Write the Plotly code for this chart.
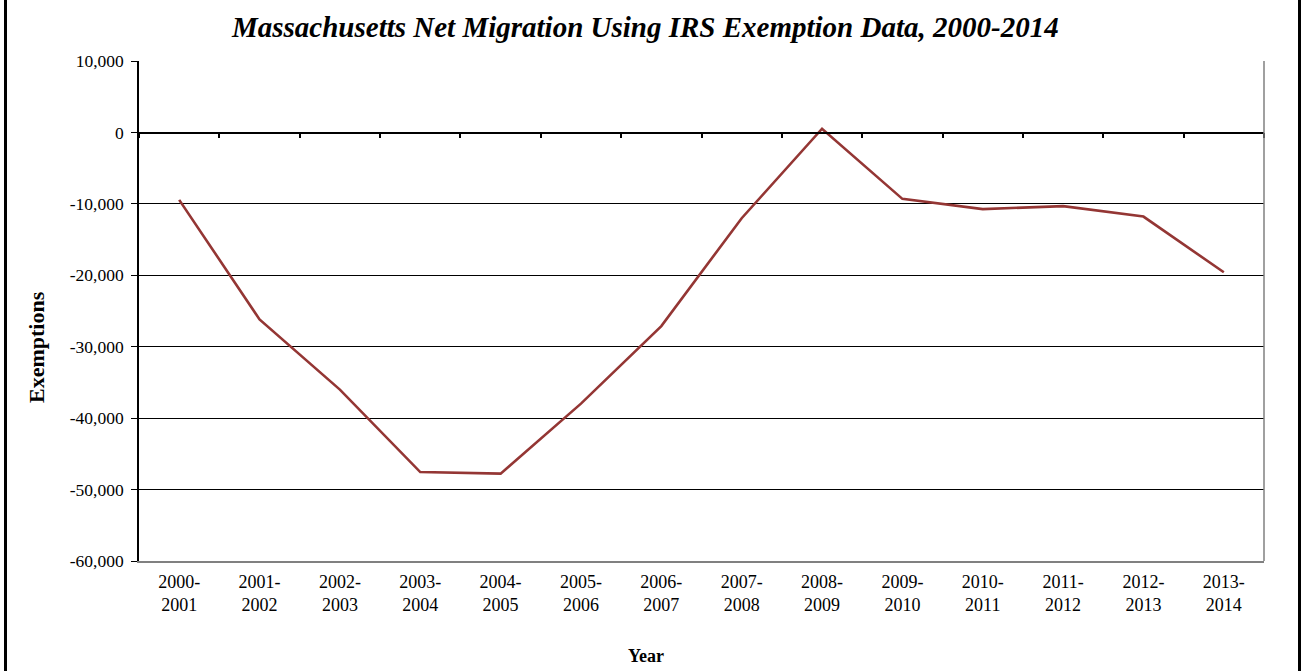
import plotly.graph_objects as go

years = ["2000-<br>2001", "2001-<br>2002", "2002-<br>2003", "2003-<br>2004", "2004-<br>2005",
         "2005-<br>2006", "2006-<br>2007", "2007-<br>2008", "2008-<br>2009", "2009-<br>2010",
         "2010-<br>2011", "2011-<br>2012", "2012-<br>2013", "2013-<br>2014"]
net_migration = [-9440, -26170, -36000, -47550, -47770, -37970, -27110, -12010, 520,
                 -9300, -10740, -10320, -11780, -19580]
y_tickvals = [10000, 0, -10000, -20000, -30000, -40000, -50000, -60000]
y_ticktext = ["10,000", "0", "-10,000", "-20,000", "-30,000", "-40,000", "-50,000", "-60,000"]

W, H = 1301, 671
L, R, T, B = 139, 1264, 61, 561
PW, PH = R - L, B - T

def px(x):
    return (x - L) / PW

def py(y):
    return (B - y) / PH

FONT = "Liberation Serif, Times New Roman, serif"
RED = "#943634"

fig = go.Figure()
fig.add_trace(go.Scatter(x=years, y=net_migration, mode="lines",
                         line=dict(color=RED, width=2.6), hoverinfo="x+y"))
# invisible twin on axis crossing at zero (for boundary ticks)
fig.add_trace(go.Scatter(x=years, y=net_migration, mode="lines", xaxis="x2",
                         line=dict(color="rgba(0,0,0,0)", width=0), hoverinfo="skip",
                         showlegend=False))

fig.update_layout(
    width=W, height=H,
    margin=dict(l=L, r=W - R, t=T, b=H - B, pad=0),
    paper_bgcolor="white", plot_bgcolor="white",
    showlegend=False,
    font=dict(family=FONT, size=17, color="black"),
    xaxis=dict(type="category", range=[-0.5, 13.5], showgrid=False, zeroline=False,
               showline=True, linecolor="#808080", linewidth=2, ticks="",
               tickfont=dict(family=FONT, size=18), ticklabelstandoff=3),
    xaxis2=dict(type="category", range=[-0.5, 13.5], overlaying="x", anchor="free",
                position=(B - (T + 71.6)) / PH, side="bottom", showgrid=False, zeroline=False,
                showline=True, linecolor="black", linewidth=1.5, ticks="outside",
                tickson="boundaries", ticklen=5, tickwidth=1.5, tickcolor="black",
                showticklabels=False),
    yaxis=dict(range=[-60000, 10000], tickvals=y_tickvals, ticktext=y_ticktext,
               showgrid=True, gridcolor="black", gridwidth=1.2, zeroline=False,
               showline=True, linecolor="black", linewidth=1.5, ticks="outside",
               ticklen=6, tickwidth=1.2, tickcolor="black",
               tickfont=dict(family=FONT, size=17.5), ticklabelstandoff=4),
    shapes=[
        dict(type="line", xref="paper", yref="paper", x0=1, x1=1, y0=0, y1=1,
             line=dict(color="#808080", width=1.5)),
        dict(type="rect", xref="paper", yref="paper", x0=px(5.5), x1=px(1299.5),
             y0=py(680), y1=py(-10), line=dict(color="black", width=3),
             fillcolor="rgba(0,0,0,0)", layer="above"),
    ],
    annotations=[
        dict(text="<b><i>Massachusetts Net Migration Using IRS Exemption Data, 2000-2014</i></b>",
             xref="paper", yref="paper", x=px(645), y=py(27), xanchor="center", yanchor="middle",
             showarrow=False, font=dict(family=FONT, size=29)),
        dict(text="<b>Exemptions</b>", xref="paper", yref="paper", x=px(36), y=py(347),
             xanchor="center", yanchor="middle", textangle=-90, showarrow=False,
             font=dict(family=FONT, size=22)),
        dict(text="<b>Year</b>", xref="paper", yref="paper", x=px(646), y=py(656),
             xanchor="center", yanchor="middle", showarrow=False,
             font=dict(family=FONT, size=18)),
    ],
)

fig.write_html("out.html", config={"displayModeBar": False},
               post_script="document.body.style.margin='0px';document.body.style.padding='0px';")
